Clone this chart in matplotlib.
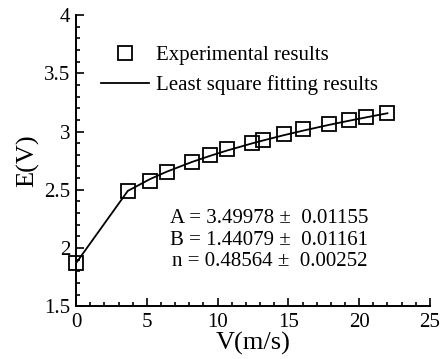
import matplotlib

matplotlib.use("Agg")
import matplotlib.pyplot as plt
from matplotlib.ticker import MultipleLocator

plt.rcParams["font.family"] = ["Liberation Serif", "DejaVu Serif"]

# measured points
v_exp = [0.0, 3.65, 5.23, 6.4, 8.17, 9.46, 10.64, 12.4, 13.23, 14.69, 16.05, 17.9, 19.3, 20.46, 22.0]
e_exp = [1.872, 2.488, 2.578, 2.65, 2.74, 2.80, 2.846, 2.90, 2.93, 2.975, 3.018, 3.063, 3.098, 3.126, 3.155]

# least square fit line (E^2 = A + B V^n), read at the same speeds
e_fit = [1.871, 2.490, 2.592, 2.655, 2.738, 2.791, 2.836, 2.897, 2.924, 2.969, 3.008, 3.058, 3.093, 3.121, 3.157]

fit_lines = [
    "A = 3.49978 \u00b1  0.01155",
    "B = 1.44079 \u00b1  0.01161",
    "n = 0.48564 \u00b1  0.00252",
]

fig = plt.figure(figsize=(4.4, 3.59), dpi=100)
ax = fig.add_axes([0.173, 0.147, 0.804, 0.811])

ax.plot(v_exp, e_fit, color="black", linewidth=1.3, label="Least square fitting results", zorder=2)
ax.plot(v_exp, e_exp, linestyle="none", marker="s", markersize=10, markerfacecolor="none",
        markeredgecolor="black", markeredgewidth=1.3, label="Experimental results", zorder=3,
        clip_on=False)

ax.set_xlim(0, 25)
ax.set_ylim(1.5, 4)
ax.xaxis.set_major_locator(MultipleLocator(5))
ax.xaxis.set_minor_locator(MultipleLocator(1))
ax.yaxis.set_major_locator(MultipleLocator(0.5))
ax.yaxis.set_minor_locator(MultipleLocator(0.1))
ax.xaxis.set_major_formatter(plt.FuncFormatter(lambda v, p: f"{v:g}"))
ax.yaxis.set_major_formatter(plt.FuncFormatter(lambda v, p: f"{v:g}"))
ax.tick_params(which="both", direction="in", labelsize=15, width=1.2)
ax.tick_params(which="major", length=6)
ax.tick_params(axis="x", which="major", pad=5)
ax.tick_params(axis="y", which="major", pad=4)
ax.tick_params(which="minor", length=3)
ax.spines["top"].set_visible(False)
ax.spines["right"].set_visible(False)
ax.spines["left"].set_linewidth(1.4)
ax.spines["bottom"].set_linewidth(1.4)

ax.set_xlabel("V(m/s)", fontsize=19, labelpad=0)
ax.set_ylabel("E(V)", fontsize=19, labelpad=4)

handles, labels = ax.get_legend_handles_labels()
ax.legend(handles[::-1], labels[::-1], loc="upper left", bbox_to_anchor=(0.016, 0.96),
          frameon=False, fontsize=15, handlelength=2.35, handletextpad=0.3, labelspacing=0.5)

for i, line in enumerate(fit_lines):
    ax.text(0.825, 0.300 - i * 0.074, line, transform=ax.transAxes, ha="right", va="center",
            fontsize=15)

fig.savefig("out.png", dpi=100)
